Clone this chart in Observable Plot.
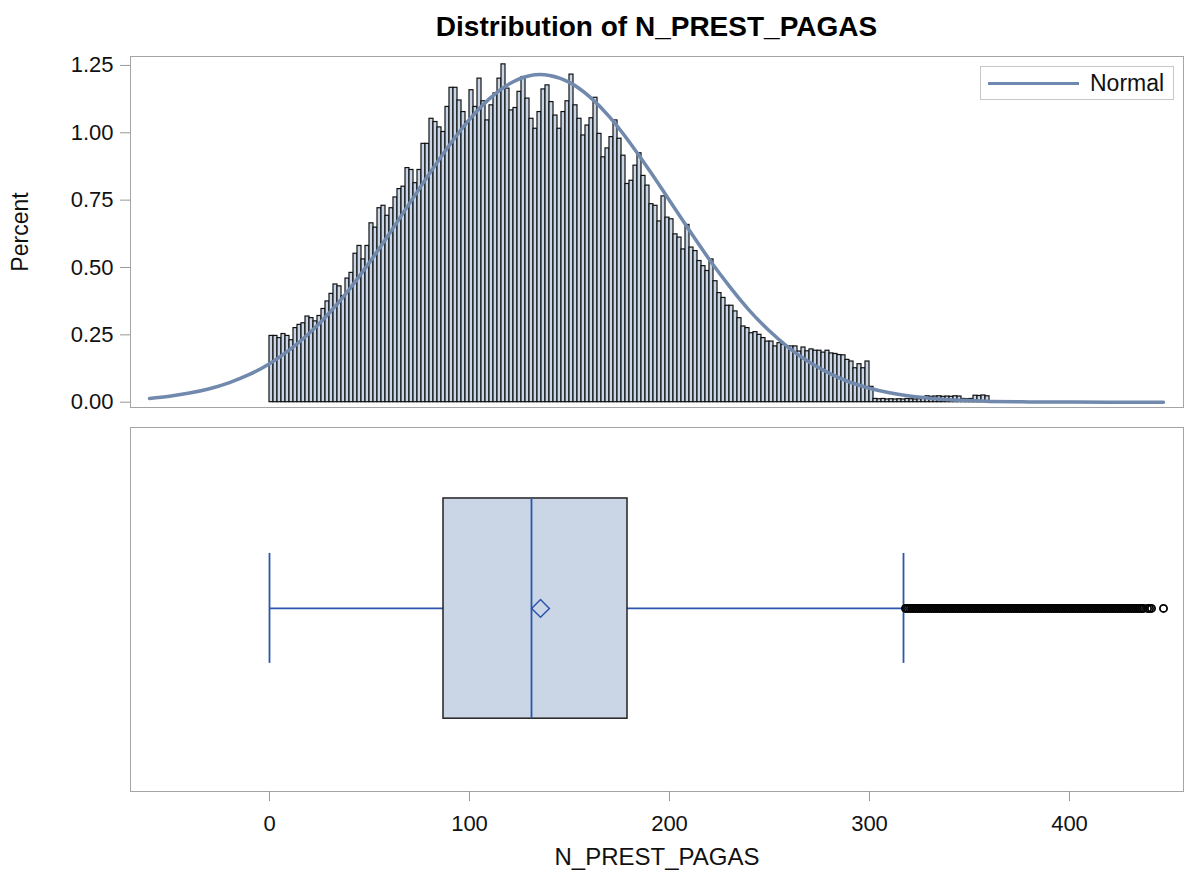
<!DOCTYPE html>
<html>
<head>
<meta charset="utf-8">
<script src="https://cdn.jsdelivr.net/npm/d3@7"></script>
<script src="https://cdn.jsdelivr.net/npm/@observablehq/plot@0.6"></script>
<style>
  body { margin: 0; background: #fff; font-family: "Liberation Sans", Arial, sans-serif; }
  #wrap { position: relative; width: 1186px; height: 883px; overflow: hidden; }
  #title { height: 40px; box-sizing: border-box; padding-top: 12px; padding-left: 130px; padding-right: 3px;
           width: 1186px; text-align: center; font-weight: bold; font-size: 28px; line-height: 30px; color: #000; }
  #legend { position: absolute; left: 980px; top: 66px; width: 194px; height: 34px; box-sizing: border-box;
            border: 1px solid #c8c8c8; background: #fff; }
  #legend .ln { position: absolute; left: 7px; top: 15px; width: 91px; height: 3px; background: #6d89b0; }
  #legend .tx { position: absolute; left: 109px; top: 2px; font-size: 23px; line-height: 28px; color: #111; }
  svg { display: block; overflow: visible; }
</style>
</head>
<body>
<div id="wrap">
  <div id="title">Distribution of N_PREST_PAGAS</div>
  <div id="top"></div>
  <div id="bottom"></div>
  <div id="legend"><div class="ln"></div><div class="tx">Normal</div></div>
</div>
<script>
// ---------- data ----------
const variableName = "N_PREST_PAGAS";
const yLabel = "Percent";
const legendLabel = "Normal";
const binStart = 0;
const binWidth = 2;
// percent of observations per bin (bins of width 2 starting at 0)
const binPercents = [
  0.246,0.246,0.238,0.253,0.246,0.23,0.275,0.287,0.293,0.318,
  0.312,0.30,0.32,0.346,0.374,0.402,0.437,0.43,0.393,0.459,
  0.48,0.551,0.58,0.53,0.58,0.664,0.648,0.72,0.729,0.692,
  0.72,0.76,0.791,0.80,0.869,0.862,0.813,0.862,0.959,0.959,
  1.052,1.04,1.02,
  1.003,1.096,1.167,1.167,1.12,1.077,1.04,1.158,1.096,1.201,
  1.117,1.046,1.102,1.146,1.201,1.254,1.164,1.083,1.092,1.152,
  1.207,1.127,1.052,1.015,1.077,1.161,1.176,1.114,1.064,1.015,
  1.077,1.117,1.216,1.102,1.052,0.99,1.027,1.054,1.13,0.996,
  0.909,0.942,0.984,1.046,0.978,0.915,0.81,0.822,0.878,
  0.924,0.84,0.804,0.735,0.729,0.671,0.764,0.685,0.679,0.623,
  0.611,0.567,0.658,0.574,0.561,0.524,0.505,0.487,0.530,0.449,
  0.405,0.387,0.358,0.358,0.337,0.312,0.281,0.275,0.256,0.26,
  0.25,0.238,0.225,0.225,0.207,0.219,0.213,0.207,0.207,0.207,
  0.188,
  0.203,0.189,0.196,0.191,0.191,0.184,0.191,0.181,0.179,0.175,
  0.174,0.157,0.151,0.126,0.141,0.126,0.151,
  0.057,
  0.012,0.011,0.012,0.010,0.011,0.010,0.011,0.010,0.012,0.011,0.010,0.011,0.012,
  0.022,0.02,0.021,0.022,0.02,0.021,0.02,0.022,0.021,
  0.012,0.011,0.012,
  0.024,0.023,0.025,0.022
];
// fitted normal curve
const normalX = [-60,-50,-40,-30,-20,-10,0,10,20,30,40,50,60,70,80,90,100,110,120,130,140,150,160,170,180,190,200,210,220,230,240,250,260,270,280,290,300,310,320,330,340,350,360,380,400,420,447];
const normalY = [0.014,0.022,0.034,0.050,0.073,0.103,0.143,0.194,0.257,0.332,0.420,0.519,0.626,0.738,0.849,0.955,1.050,1.127,1.182,1.212,1.213,1.187,1.134,1.059,0.965,0.860,0.749,0.637,0.529,0.430,0.340,0.264,0.200,0.148,0.107,0.075,0.052,0.035,0.023,0.015,0.009,0.006,0.003,0.001,0.0003,0.0001,0];
// box plot statistics
const boxMin = 0;
const boxQ1 = 87;
const boxMedian = 131;
const boxQ3 = 179;
const boxMean = 135.5;
const boxWhiskerHigh = 317;
const outliers = [
  318,319,320,321,322,323,324,325,326,327,328,329,330,331,332,333,334,335,336,337,
  338,339,340,341,342,343,344,345,346,347,348,349,350,351,352,353,354,355,356,357,
  358,359,360,361,362,363,364,365,366,367,368,369,370,371,372,373,374,375,376,377,
  378,379,380,381,382,383,384,385,386,387,388,389,390,391,392,393,394,395,396,397,
  398,399,400,401,402,403,404,405,406,407,408,409,410,411,412,413,414,415,416,417,
  418,419,420,421,422,423,424,425,426,427,428,429,430,431,432,433,434,435,436,437,
  439,440,441,447
];
const xTicks = [0, 100, 200, 300, 400];
const yTicks = [0, 0.25, 0.5, 0.75, 1.0, 1.25];

// ---------- derived tables ----------
const hist = binPercents.map((p, i) => ({x0: binStart + i * binWidth, x1: binStart + (i + 1) * binWidth, pct: p}));
const normal = normalX.map((x, i) => ({x, y: normalY[i]}));

// ---------- styles ----------
const FONT = '"Liberation Sans", Arial, sans-serif';
const xDomain = [-69.5, 457];
const blue = "#2c55ad";
const frameColor = "#a4a4a4";
const tickColor = "#999";
const textColor = "#111";

const topPlot = Plot.plot({
  width: 1186, height: 382,
  marginTop: 16, marginBottom: 15, marginLeft: 130, marginRight: 3,
  style: {fontFamily: FONT, color: textColor, background: "transparent", overflow: "visible"},
  x: {domain: xDomain, axis: null},
  y: {domain: [-0.0197, 1.2832]},
  marks: [
    Plot.rectY(hist, {x1: "x0", x2: "x1", y: "pct", fill: "#c9d6e8", stroke: "#111", strokeWidth: 1.2, inset: 0}),
    Plot.line(normal, {x: "x", y: "y", stroke: "#7089ad", strokeWidth: 3.5, curve: "natural"}),
    Plot.frame({stroke: frameColor}),
    Plot.axisY(yTicks, {tickFormat: d3.format(".2f"), tickSize: 10, tickPadding: 7, stroke: tickColor, fill: textColor, fontSize: 22, label: null}),
    Plot.text([yLabel], {frameAnchor: "left", textAnchor: "middle", dx: -110, rotate: -90, fontSize: 23, fill: textColor})
  ]
});

const mid = 0.503, boxLo = 0.2, boxHi = 0.805, capLo = 0.352, capHi = 0.654;
const bottomPlot = Plot.plot({
  width: 1186, height: 461,
  marginTop: 5, marginBottom: 92, marginLeft: 130, marginRight: 3,
  style: {fontFamily: FONT, color: textColor, background: "transparent", overflow: "visible"},
  x: {domain: xDomain},
  y: {domain: [0, 1], axis: null},
  marks: [
    Plot.frame({stroke: frameColor}),
    Plot.ruleY([0], {x1: () => boxMin, x2: () => boxQ1, y: () => mid, stroke: blue, strokeWidth: 1.8}),
    Plot.ruleY([0], {x1: () => boxQ3, x2: () => boxWhiskerHigh, y: () => mid, stroke: blue, strokeWidth: 1.8}),
    Plot.ruleX([boxMin, boxWhiskerHigh], {x: d => d, y1: () => capLo, y2: () => capHi, stroke: blue, strokeWidth: 1.8}),
    Plot.rect([0], {x1: () => boxQ1, x2: () => boxQ3, y1: () => boxLo, y2: () => boxHi, fill: "#cad5e5", stroke: "#222", strokeWidth: 1.5}),
    Plot.ruleX([boxMedian], {x: d => d, y1: () => boxLo, y2: () => boxHi, stroke: blue, strokeWidth: 1.8}),
    Plot.dot([boxMean], {x: d => d, y: () => mid, symbol: "diamond2", r: 8, stroke: blue, fill: "none", strokeWidth: 1.5}),
    Plot.dot(outliers, {x: d => d, y: () => mid, r: 3.6, stroke: "#000", fill: "none", strokeWidth: 1.8}),
    Plot.axisX(xTicks, {tickSize: 10, tickPadding: 14, stroke: tickColor, fill: textColor, fontSize: 22, label: null}),
    Plot.text([variableName], {frameAnchor: "bottom", dy: 73, fontSize: 24, fill: textColor})
  ]
});

document.getElementById("top").appendChild(topPlot);
document.getElementById("bottom").appendChild(bottomPlot);
document.querySelector("#legend .tx").textContent = legendLabel;
document.getElementById("title").textContent = "Distribution of " + variableName;
</script>
</body>
</html>
